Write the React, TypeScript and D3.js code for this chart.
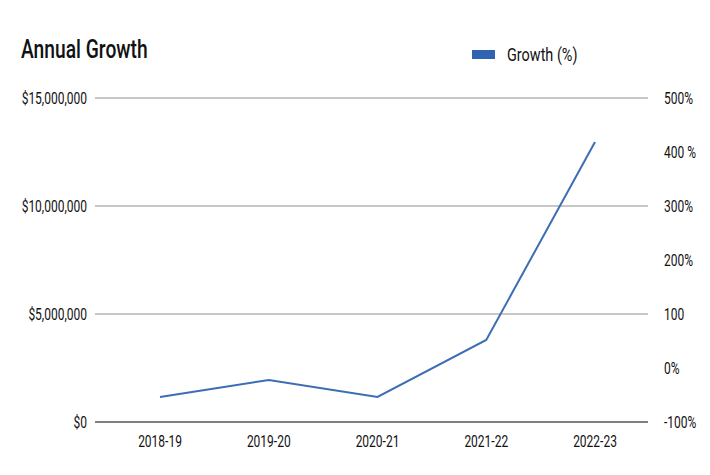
import React from "react";
import * as d3 from "d3";

const categories = ["2018-19", "2019-20", "2020-21", "2021-22", "2022-23"];
const growthPct = [-53.7, -22.2, -53.7, 51.9, 418.5];
const leftTicks = [0, 5000000, 10000000, 15000000];
const leftTickLabels = ["$0", "$5,000,000", "$10,000,000", "$15,000,000"];
const rightTicks = [-100, 0, 100, 200, 300, 400, 500];
const rightTickLabels = ["-100%", "0%", "100", "200%", "300%", "400 %", "500%"];
const seriesName = "Growth (%)";
const title = "Annual Growth";

const W = 710;
const H = 475;
const FONT = "Roboto, 'Liberation Sans', sans-serif";

type CTProps = {
  x: number;
  y: number;
  size: number;
  sx?: number;
  anchor?: "start" | "middle" | "end";
  weight?: number;
  dy?: string;
  children: React.ReactNode;
};

function CText({ x, y, size, sx = 0.75, anchor = "start", weight = 400, dy, children }: CTProps) {
  return (
    <text
      transform={`translate(${x},${y}) scale(${sx},1)`}
      textAnchor={anchor}
      fontSize={size}
      fontWeight={weight}
      dy={dy}
      fill="#111"
    >
      {children}
    </text>
  );
}

export default function App() {
  const yLeft = d3.scaleLinear().domain([0, 15000000]).range([422, 98]);
  const yRight = d3.scaleLinear().domain([-100, 500]).range([422, 98]);
  const x = d3.scalePoint<string>().domain(categories).range([160, 595]);
  const gridX0 = 95;
  const gridX1 = 648;

  const line = d3
    .line<number>()
    .x((_, i) => x(categories[i]) as number)
    .y((d) => yRight(d));

  return (
    <svg
      width={W}
      height={H}
      style={{ position: "absolute", left: 0, top: 0, background: "#fff" }}
      fontFamily={FONT}
    >
      <CText x={21} y={58} size={26} sx={0.74} weight={500}>
        {title}
      </CText>
      <rect x={472} y={50} width={23} height={9} fill="#2f64b0" />
      <CText x={507} y={61} size={19} sx={0.76}>
        {seriesName}
      </CText>

      {leftTicks.map((t, i) =>
        t === 0 ? null : (
          <line
            key={"g" + i}
            x1={gridX0}
            x2={gridX1}
            y1={yLeft(t)}
            y2={yLeft(t)}
            stroke="#b5b5b5"
            strokeWidth={1.5}
          />
        )
      )}
      <line x1={gridX0} x2={gridX1} y1={yLeft(0)} y2={yLeft(0)} stroke="#808080" strokeWidth={2} />

      {leftTicks.map((t, i) => (
        <CText key={"l" + i} x={87} y={yLeft(t)} dy="0.36em" anchor="end" size={16}>
          {leftTickLabels[i]}
        </CText>
      ))}
      {rightTicks.map((t, i) => (
        <CText key={"r" + i} x={664} y={yRight(t)} dy="0.36em" size={16}>
          {rightTickLabels[i]}
        </CText>
      ))}
      {categories.map((c) => (
        <CText key={c} x={x(c) as number} y={447} anchor="middle" size={16}>
          {c}
        </CText>
      ))}

      <path d={line(growthPct) || ""} fill="none" stroke="#3d6db3" strokeWidth={2} />
    </svg>
  );
}
